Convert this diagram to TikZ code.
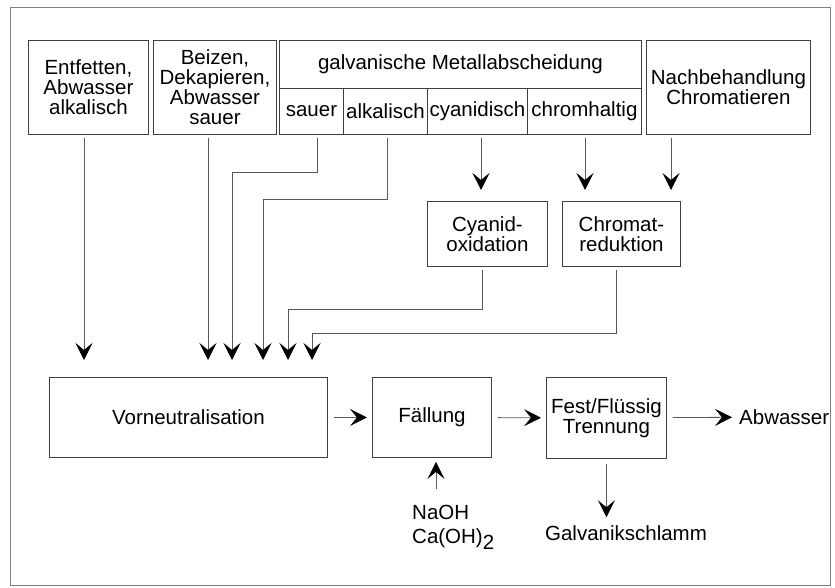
\documentclass[tikz,border=0pt]{standalone}
\usepackage{fontspec}
\setmainfont{Liberation Sans}
\usetikzlibrary{arrows.meta,calc}
\begin{document}
\begin{tikzpicture}[x=1pt,y=-1pt,
  box/.style={draw=black!75, line width=0.9pt, anchor=north west, inner sep=0pt,
    align=center, font=\fontsize{20.5}{20}\selectfont},
  lbl/.style={inner sep=0pt, font=\fontsize{20.5}{20}\selectfont},
  flow/.style={draw=black!65, line width=0.8pt, shorten <=3pt,
    -{Stealth[length=17pt,width=17pt,inset=7pt,color=black]}},
]
\useasboundingbox (0,0) rectangle (835,588);
\node[draw=black!50, line width=0.8pt, anchor=north west, inner sep=0pt,
  minimum width=820, minimum height=578] (frame) at (10,7) {};

% process sources
\node[box, minimum width=120, minimum height=94] (ent) at (28,40) {Entfetten,\\Abwasser\\alkalisch};
\node[box, minimum width=123, minimum height=94] (beiz) at (153,40) {Beizen,\\Dekapieren,\\Abwasser\\sauer};
\node[box, minimum width=362, minimum height=48] (galv) at (279,40) {galvanische Metallabscheidung};
\node[box, minimum width=64, minimum height=46] (sau) at (279,88) {sauer};
\node[box, minimum width=84, minimum height=46] (alk) at (343,88) {alkalisch};
\node[box, minimum width=100, minimum height=46] (cya) at (427,88) {cyanidisch};
\node[box, minimum width=114, minimum height=46] (chr) at (527,88) {chromhaltig};
\node[box, minimum width=164, minimum height=94] (nach) at (646,40) {Nachbehandlung\\Chromatieren};

% pretreatment
\node[box, minimum width=120, minimum height=65] (cox) at (427,201) {Cyanid-\\oxidation};
\node[box, minimum width=118, minimum height=65] (cred) at (562,201) {Chromat-\\reduktion};

% main line
\node[box, minimum width=278, minimum height=80] (vn) at (49,377) {Vorneutralisation};
\node[box, minimum width=119, minimum height=80] (fal) at (372,377) {Fällung};
\node[box, minimum width=120, minimum height=81] (fest) at (546,377) {Fest/Flüssig\\Trennung};
\node[lbl, anchor=west] (abw) at (739,417) {Abwasser};
\node[lbl, anchor=base west] (naoh) at (412,519) {NaOH};
\node[lbl, anchor=base west] (caoh) at (412,543) {Ca(OH)\raisebox{-6pt}{2}};
\node[lbl] (schl) at (626,533) {Galvanikschlamm};

% entry points on the pre-neutralisation tank
\coordinate (in1) at (84,377);
\coordinate (in2) at (208,377);
\coordinate (in3) at (232,377);
\coordinate (in4) at (263,377);
\coordinate (in5) at (288,377);
\coordinate (in6) at (312,377);
% bends
\coordinate (k3) at (317,172);
\coordinate (k4) at (387,199);
\coordinate (k5) at (482,309);
\coordinate (k6) at (616,333);
% entry points on the pretreatment boxes
\coordinate (t1) at (481,201);
\coordinate (t2) at (585,201);
\coordinate (t3) at (671,201);
\coordinate (nb) at (436,489);

\draw[flow, shorten >=17pt] (ent.south -| in1) -- (in1);
\draw[flow, shorten >=17pt] (beiz.south -| in2) -- (in2);
\draw[flow, shorten >=17pt] (sau.south -| k3) -- (k3) -| (in3);
\draw[flow, shorten >=17pt] (alk.south -| k4) -- (k4) -| (in4);
\draw[flow, shorten >=17pt] (cox.south -| k5) -- (k5) -| (in5);
\draw[flow, shorten >=17pt] (cred.south -| k6) -- (k6) -| (in6);

\draw[flow, shorten >=11pt] (cya.south -| t1) -- (t1);
\draw[flow, shorten >=11pt] (chr.south -| t2) -- (t2);
\draw[flow, shorten >=11pt] (nach.south -| t3) -- (t3);

\draw[flow, shorten <=6pt, shorten >=5pt] (vn) -- (fal);
\draw[flow, shorten <=6pt, shorten >=5pt] (fal) -- (fest);
\draw[flow, shorten <=6pt, shorten >=7pt] (fest) -- (abw);
\draw[flow, shorten <=0pt, shorten >=4pt] (nb) -- (nb |- fal.south);
\draw[flow, shorten <=5pt, shorten >=8pt] (fest.south) -- (fest.south |- schl.north);
\end{tikzpicture}
\end{document}
